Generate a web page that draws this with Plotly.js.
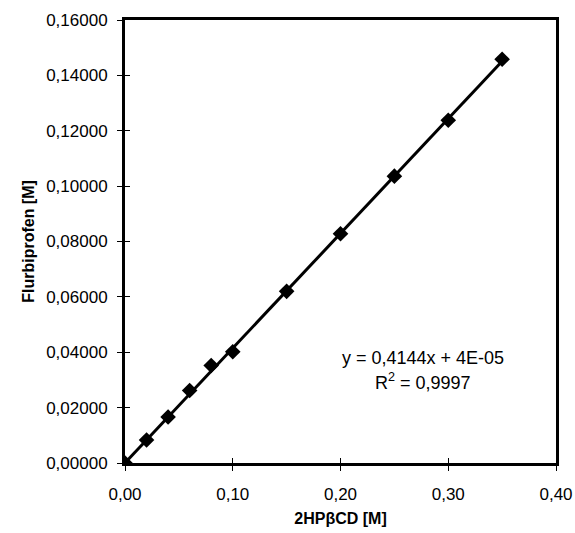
<!DOCTYPE html>
<html>
<head>
<meta charset="utf-8">
<script src="https://cdn.plot.ly/plotly-3.0.1.min.js"></script>
<style>html,body{margin:0;padding:0;background:#fff}#chart{width:575px;height:533px}</style>
</head>
<body>
<div id="chart"></div>
<script>
// Data
const hpbcd = [0, 0.02, 0.04, 0.06, 0.08, 0.10, 0.15, 0.20, 0.25, 0.30, 0.35];
const flurbiprofen = [0, 0.0083, 0.0166, 0.0262, 0.0352, 0.0402, 0.0620, 0.0828, 0.1036, 0.1238, 0.1458];
const slope = 0.4144;
const intercept = 0.00004;
const trendX = [0, 0.35];
const trendY = trendX.map(v => slope * v + intercept);
const equationText = 'y = 0,4144x + 4E-05';
const r2Text = 'R<sup>2</sup> = 0,9997';

const font = 'Liberation Sans, Arial, sans-serif';

const traces = [
  {x: trendX, y: trendY, mode: 'lines', line: {color: '#000', width: 3}, hoverinfo: 'skip', showlegend: false},
  {x: hpbcd, y: flurbiprofen, mode: 'markers', marker: {symbol: 'diamond', size: 12, color: '#000'}, showlegend: false},
  {x: [0], y: [0], xaxis: 'x2', yaxis: 'y2', mode: 'markers', marker: {opacity: 0}, hoverinfo: 'skip', showlegend: false}
];

const layout = {
  width: 575, height: 533,
  margin: {l: 125, r: 19, t: 20, b: 70},
  paper_bgcolor: '#fff', plot_bgcolor: '#fff',
  separators: ',.',
  font: {family: font, color: '#000', size: 17},
  xaxis: {
    range: [0, 0.40], dtick: 0.10, tickformat: '.2f',
    showgrid: false, zeroline: false,
    showline: true, linecolor: '#000', linewidth: 3, mirror: true,
    ticks: 'outside', ticklen: 5, tickwidth: 1, tickcolor: '#000',
    ticklabelstandoff: 9,
    tickfont: {size: 17, family: font},
    title: {text: '<b>2HPβCD [M]</b>', font: {size: 16, family: font}, standoff: 10}
  },
  yaxis: {
    range: [0, 0.16], dtick: 0.02, tickformat: '.5f',
    showgrid: false, zeroline: false,
    showline: true, linecolor: '#000', linewidth: 3, mirror: true,
    ticks: 'outside', ticklen: 5, tickwidth: 1, tickcolor: '#000',
    ticklabelstandoff: 6,
    tickfont: {size: 17, family: font},
    title: {text: '<b>Flurbiprofen [M]</b>', font: {size: 16, family: font}, standoff: 8}
  },
  xaxis2: {
    overlaying: 'x', matches: 'x', range: [0, 0.40], dtick: 0.10,
    showgrid: false, zeroline: false, showline: false, showticklabels: false,
    ticks: 'inside', ticklen: 5, tickwidth: 1, tickcolor: '#000', side: 'bottom'
  },
  yaxis2: {
    overlaying: 'y', matches: 'y', range: [0, 0.16], dtick: 0.02,
    showgrid: false, zeroline: false, showline: false, showticklabels: false,
    ticks: 'inside', ticklen: 5, tickwidth: 1, tickcolor: '#000', side: 'left'
  },
  annotations: [
    {text: equationText, xref: 'x', yref: 'y', x: 0.277, y: 0.0378, showarrow: false, font: {size: 18, family: font}},
    {text: r2Text, xref: 'x', yref: 'y', x: 0.277, y: 0.0295, showarrow: false, font: {size: 18, family: font}}
  ]
};

Plotly.newPlot('chart', traces, layout, {displayModeBar: false, staticPlot: true});
</script>
</body>
</html>
